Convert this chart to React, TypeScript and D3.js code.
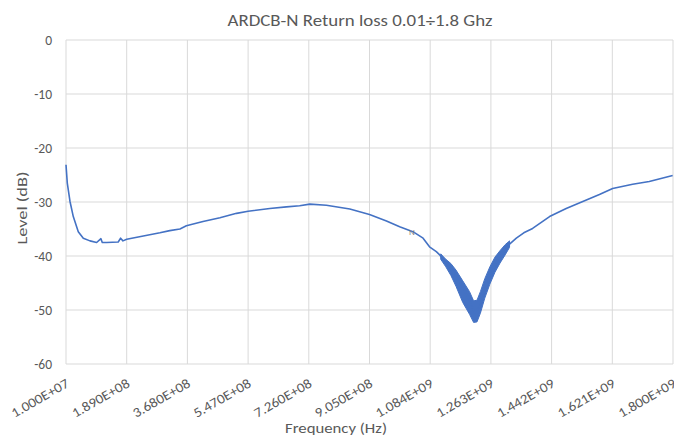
import React from "react";
import * as d3 from "d3";

// Frequency in MHz and return loss level in dB
const freqMHz = [
  10, 13.8, 21.8, 31.5, 46.2, 61, 80.7, 100.4, 113, 117, 130, 164, 171, 178, 189,
  238, 287, 316, 346, 365, 414, 464, 513, 547, 611, 660, 699, 729, 778, 847, 905,
  955, 994, 1033, 1063, 1082, 1102, 1112, 1141, 1171, 1200, 1215, 1230, 1249, 1269,
  1288, 1308, 1318, 1338, 1360, 1386, 1436, 1485, 1534, 1583, 1622, 1681, 1730, 1799,
];
const levelDb = [
  -23.1, -26.5, -29.9, -32.7, -35.5, -36.7, -37.2, -37.5, -36.8, -37.5, -37.5, -37.4, -36.7, -37.2, -36.9,
  -36.3, -35.7, -35.3, -35.0, -34.4, -33.6, -32.9, -32.1, -31.7, -31.2, -30.9, -30.7, -30.4, -30.6, -31.3, -32.3,
  -33.5, -34.6, -35.5, -36.7, -38.3, -39.2, -39.8, -42.0, -44.8, -48.1, -50.5, -49.4, -45.7, -42.6,
  -40.1, -38.9, -37.8, -36.7, -35.7, -34.9, -32.7, -31.2, -29.9, -28.6, -27.5, -26.7, -26.2, -25.1,
];

// Noisy band around the resonance dip (upper / lower envelope)
const bandFreq = [1115, 1130, 1145, 1160, 1180, 1200, 1212, 1222, 1232, 1245, 1260, 1275, 1290, 1305, 1318];
const bandUpper = [-39.6, -40.6, -41.4, -42.6, -44.6, -46.6, -48.3, -48.2, -46.6, -44.2, -42.0, -40.2, -39.0, -37.9, -37.2];
const bandLower = [-40.6, -42.0, -43.6, -45.6, -48.6, -50.8, -52.3, -52.2, -50.6, -47.8, -45.2, -43.0, -41.3, -39.8, -38.4];

const xTickLabels = [
  "1.000E+07", "1.890E+08", "3.680E+08", "5.470E+08", "7.260E+08", "9.050E+08",
  "1.084E+09", "1.263E+09", "1.442E+09", "1.621E+09", "1.800E+09",
];
const yTicks = [0, -10, -20, -30, -40, -50, -60];

const W = 674;
const H = 442;
const left = 66;
const right = 673;
const top = 40;
const bottom = 364;
const FONT = "Carlito, Calibri, Lato, 'Open Sans', sans-serif";
const TEXT = "#595959";
const GRID = "#d9d9d9";
const LINE = "#4472C4";

export default function App() {
  const x = d3.scaleLinear().domain([10, 1800]).range([left, right]);
  const y = d3.scaleLinear().domain([-60, 0]).range([bottom, top]);

  const pts: [number, number][] = freqMHz.map((f, i) => [f, levelDb[i]]);
  const line = d3
    .line<[number, number]>()
    .x((d) => x(d[0]))
    .y((d) => y(d[1]));
  const area = d3
    .area<number>()
    .x((d, i) => x(bandFreq[i]))
    .y0((d, i) => y(bandLower[i]))
    .y1((d, i) => y(bandUpper[i]));

  const tickVals = xTickLabels.map((s) => parseFloat(s) / 1e6);

  return (
    <svg
      width={W}
      height={H}
      style={{ position: "absolute", left: 0, top: 0, background: "#fff" }}
      fontFamily={FONT}
    >
      <rect width={W} height={H} fill="#fff" />
      {/* horizontal gridlines */}
      {yTicks.map((t) => (
        <line key={"h" + t} x1={left} x2={right} y1={y(t)} y2={y(t)} stroke={GRID} strokeWidth={1} />
      ))}
      {/* vertical gridlines */}
      {tickVals.map((v, i) => (
        <line key={"v" + i} x1={x(v)} x2={x(v)} y1={top} y2={bottom} stroke={GRID} strokeWidth={1} />
      ))}
      {/* y tick labels */}
      {yTicks.map((t) => (
        <text key={"yt" + t} x={52} y={y(t) + 5} textAnchor="end" fontSize={13.5} fill={TEXT}>
          {t}
        </text>
      ))}
      {/* x tick labels */}
      {tickVals.map((v, i) => (
        <text
          key={"xt" + i}
          transform={`translate(${x(v) + 4},${bottom + 22}) rotate(-30)`}
          textAnchor="end"
          fontSize={13.5}
          textLength={64}
          lengthAdjust="spacingAndGlyphs"
          fill={TEXT}
        >
          {xTickLabels[i]}
        </text>
      ))}
      {/* data */}
      <path d={area(bandFreq) || ""} fill={LINE} stroke={LINE} strokeWidth={1} />
      <path d={line(pts) || ""} fill="none" stroke={LINE} strokeWidth={1.6} strokeLinejoin="round" />
      <text x={x(1033) - 4} y={y(-35.5) + 3} fontSize={9} fill="#7f7f7f">
        N
      </text>
      {/* titles */}
      <text
        x={360}
        y={26}
        textAnchor="middle"
        fontSize={16}
        textLength={265}
        lengthAdjust="spacingAndGlyphs"
        fill={TEXT}
      >
        ARDCB-N Return loss 0.01÷1.8 Ghz
      </text>
      <text
        x={336}
        y={433}
        textAnchor="middle"
        fontSize={15}
        textLength={102}
        lengthAdjust="spacingAndGlyphs"
        fill={TEXT}
      >
        Frequency (Hz)
      </text>
      <text
        transform={`translate(27,208) rotate(-90)`}
        textAnchor="middle"
        fontSize={15}
        textLength={73}
        lengthAdjust="spacingAndGlyphs"
        fill={TEXT}
      >
        Level (dB)
      </text>
    </svg>
  );
}
